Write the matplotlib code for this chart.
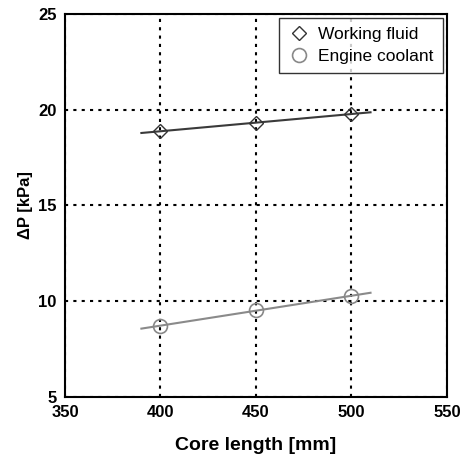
import numpy as np
import matplotlib
matplotlib.use("Agg")
import matplotlib.pyplot as plt

core_length = [400, 450, 500]
working_fluid = [18.88, 19.32, 19.78]
engine_coolant = [8.71, 9.54, 10.27]
fit_range = [390, 510]

plt.rcParams['font.family'] = ['Liberation Sans', 'DejaVu Sans']

fig = plt.figure(figsize=(4.66, 4.62), dpi=100)
ax = fig.add_axes([0.1395, 0.1407, 0.8195, 0.829])

xf = np.array(fit_range)
c1 = np.polyfit(core_length, working_fluid, 1)
c2 = np.polyfit(core_length, engine_coolant, 1)
ax.plot(xf, np.polyval(c1, xf), color='#3a3a3a', lw=1.5, zorder=3)
ax.plot(xf, np.polyval(c2, xf), color='#8a8a8a', lw=1.5, zorder=3)
ax.plot(core_length, working_fluid, linestyle='none', marker='D', markersize=7,
        markerfacecolor='none', markeredgecolor='#333333', mew=1.0, label='Working fluid', zorder=4)
ax.plot(core_length, engine_coolant, linestyle='none', marker='o', markersize=10,
        markerfacecolor='none', markeredgecolor='#888888', mew=1.2, label='Engine coolant', zorder=4)

ax.set_xlim(350, 550)
ax.set_ylim(5, 25)
ax.set_xticks([350, 400, 450, 500, 550])
ax.set_yticks([5, 10, 15, 20, 25])
ax.grid(True, color='black', linestyle=(0, (1.5, 2.5)), linewidth=1.5)
ax.tick_params(length=0, labelsize=12, pad=6)
for lab in ax.get_xticklabels() + ax.get_yticklabels():
    lab.set_fontweight('bold')
for s in ax.spines.values():
    s.set_linewidth(1.5)

ax.set_xlabel('Core length [mm]', fontsize=14, fontweight='bold', labelpad=12)
ax.set_ylabel('ΔP [kPa]', fontsize=12, fontweight='bold', labelpad=4)

leg = ax.legend(loc='upper right', fontsize=12.5, frameon=True, fancybox=False,
                edgecolor='black', borderaxespad=0.25, handletextpad=0.5, handlelength=1.3,
                borderpad=0.5, labelspacing=0.4)
leg.get_frame().set_linewidth(1.0)

fig.savefig('out.png', dpi=100)
